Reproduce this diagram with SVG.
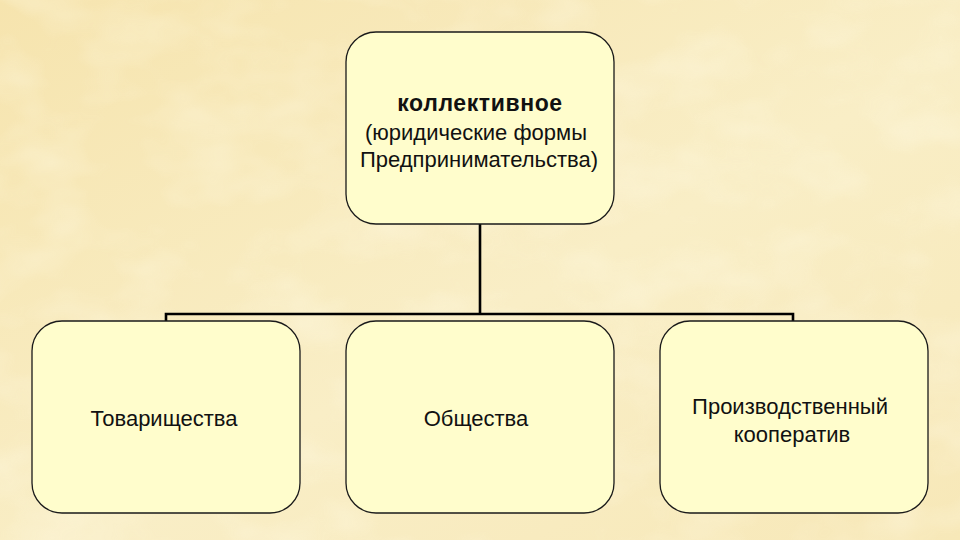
<svg xmlns="http://www.w3.org/2000/svg" width="960" height="540" viewBox="0 0 960 540">
  <defs>
    <linearGradient id="bg" x1="0" y1="0" x2="1" y2="1">
      <stop offset="0" stop-color="#F6E4AE"/>
      <stop offset="0.55" stop-color="#F9EEC6"/>
      <stop offset="1" stop-color="#F7E8B8"/>
    </linearGradient>
    <filter id="paper" x="0" y="0" width="100%" height="100%">
      <feTurbulence type="fractalNoise" baseFrequency="0.012 0.02" numOctaves="3" seed="7" result="n"/>
      <feColorMatrix in="n" type="matrix" values="0 0 0 0 1  0 0 0 0 0.97  0 0 0 0 0.82  0 0 0 1.2 -0.5"/>
    </filter>
    <style>
      .box { fill: #FFFDCC; stroke: #1a1a1a; stroke-width: 1.3; }
      .conn { fill: none; stroke: #000; stroke-width: 2.6; }
      .t { font-family: "Liberation Sans", Arial, sans-serif; font-size: 22px; fill: #111; text-anchor: middle; }
      .b { font-weight: bold; font-size: 23px; letter-spacing: 0.6px; }
    </style>
  </defs>
  <rect width="960" height="540" fill="url(#bg)"/>
  <rect width="960" height="540" filter="url(#paper)" opacity="0.6"/>

  <g id="connectors">
    <path class="conn" d="M480 224 V314"/>
    <path class="conn" d="M166 321 V314 H793 V321"/>
  </g>

  <g id="node-top">
    <rect class="box" x="346" y="32" width="268" height="192" rx="30" ry="30"/>
    <text class="t b" x="480" y="111">коллективное</text>
    <text class="t" x="476" y="140">(юридические формы</text>
    <text class="t" x="479" y="167">Предпринимательства)</text>
  </g>

  <g id="node-left">
    <rect class="box" x="32" y="321" width="268" height="192" rx="30" ry="30"/>
    <text class="t" x="164" y="426">Товарищества</text>
  </g>

  <g id="node-mid">
    <rect class="box" x="346" y="321" width="268" height="192" rx="30" ry="30"/>
    <text class="t" x="476" y="426">Общества</text>
  </g>

  <g id="node-right">
    <rect class="box" x="660" y="321" width="268" height="192" rx="30" ry="30"/>
    <text class="t" x="790" y="414">Производственный</text>
    <text class="t" x="792" y="442">кооператив</text>
  </g>
</svg>
